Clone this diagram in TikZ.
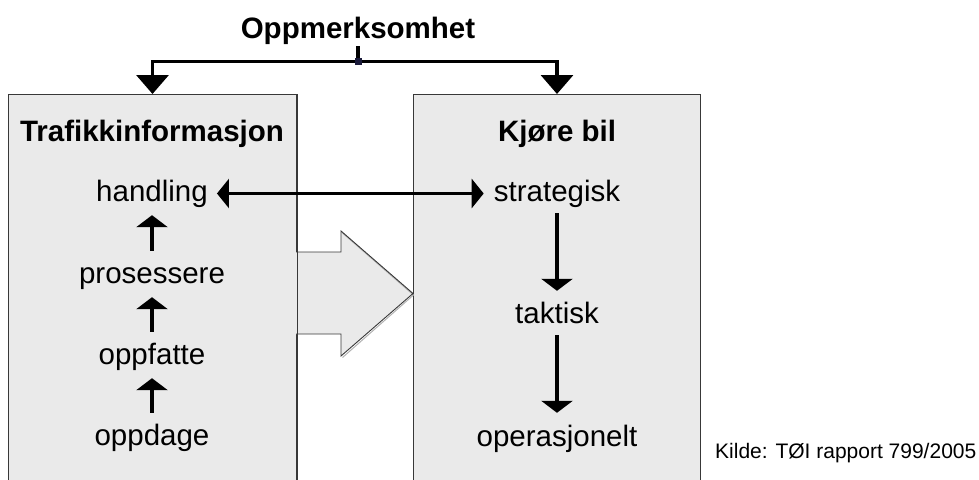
\documentclass[tikz,border=0pt]{standalone}
\usepackage{fontspec}
\setmainfont{Liberation Sans}
\usetikzlibrary{arrows.meta,calc}
\definecolor{boxfill}{HTML}{EAEAEA}
\definecolor{boxline}{HTML}{383838}
\definecolor{junccol}{HTML}{1A1A3A}
\tikzset{
  panel/.style={draw=boxline, line width=1pt, fill=boxfill, minimum width=288pt, minimum height=400pt, inner sep=0pt, anchor=north west},
  lbl/.style={inner sep=0pt, text height=22pt, text depth=7pt, anchor=base, font=\fontsize{29.5}{34}\selectfont},
  ttl/.style={inner sep=0pt, anchor=base, font=\fontsize{29.5}{34}\selectfont\bfseries},
  conn/.style={line width=3.5pt, draw=black},
  smallarr/.style={conn, -{Triangle[length=12pt,width=31pt]}},
  bigarr/.style={conn, -{Triangle[length=19pt,width=32pt]}},
  twoarr/.style={conn, {Triangle[length=12pt,width=29pt]}-{Triangle[length=12pt,width=29pt]}},
  blockarr/.style={draw=boxline, line width=0.9pt, line join=miter}
}
\begin{document}
\begin{tikzpicture}[x=1pt,y=-1pt]
\useasboundingbox (0,0) rectangle (979,479);
% panels
\node[panel] (lbox) at (8,94) {};
\node[panel, minimum width=287pt] (rbox) at (413,94) {};
% block arrow
\fill[boxfill] (296,252) -- (341,252) -- (341,231) -- (413,293.5) -- (341,356) -- (341,334) -- (296,334) -- cycle;
\draw[gray!60, line width=1pt] (342.5,233) -- (413.5,295) -- (342.5,357.5);
\draw[blockarr] (296,252) -- (341,252) -- (341,231) -- (413,293.5) -- (341,356) -- (341,334) -- (296,334);
\draw[boxline, line width=1pt] (lbox.north east) -- (lbox.south east);
% title
\node[ttl] (title) at (358,38) {Oppmerksomhet};
\coordinate (junc) at (358,61.5);
\draw[conn, shorten <=2pt] (title.south) -- (junc);
\draw[bigarr] (junc) -| (lbox.north);
\draw[bigarr] (junc) -| (rbox.north);
\fill[junccol] ($(junc)+(-3.5,-3.5)$) rectangle ($(junc)+(3.5,3.5)$);
% headings
\node[ttl] (traf) at (152,141) {Trafikkinformasjon};
\node[ttl] (kjore) at (557,141) {Kjøre bil};
% left column
\node[lbl] (handling) at (152,201) {handling};
\node[lbl] (prosessere) at (152,283) {prosessere};
\node[lbl] (oppfatte) at (152,364) {oppfatte};
\node[lbl] (oppdage) at (152,445) {oppdage};
% right column
\node[lbl] (strategisk) at (557,201) {strategisk};
\node[lbl] (taktisk) at (557,323) {taktisk};
\node[lbl] (operasjonelt) at (557,446) {operasjonelt};
% source
\node[inner sep=0pt, anchor=base west, font=\fontsize{21}{25}\selectfont] (kilde) at (715,458) {Kilde: TØI rapport 799/2005};
% connectors
\draw[smallarr, shorten <=10pt, shorten >=7pt] (oppdage.north) -- (oppfatte.south);
\draw[smallarr, shorten <=10pt, shorten >=7pt] (oppfatte.north) -- (prosessere.south);
\draw[smallarr, shorten <=10pt, shorten >=7pt] (prosessere.north) -- (handling.south);
\draw[smallarr, shorten <=5pt, shorten >=10pt] (strategisk.south) -- (taktisk.north);
\draw[smallarr, shorten <=5pt, shorten >=11pt] (taktisk.south) -- (operasjonelt.north);
\draw[twoarr, shorten <=9pt, shorten >=10pt] (handling.east) -- (strategisk.west);
\end{tikzpicture}
\end{document}
